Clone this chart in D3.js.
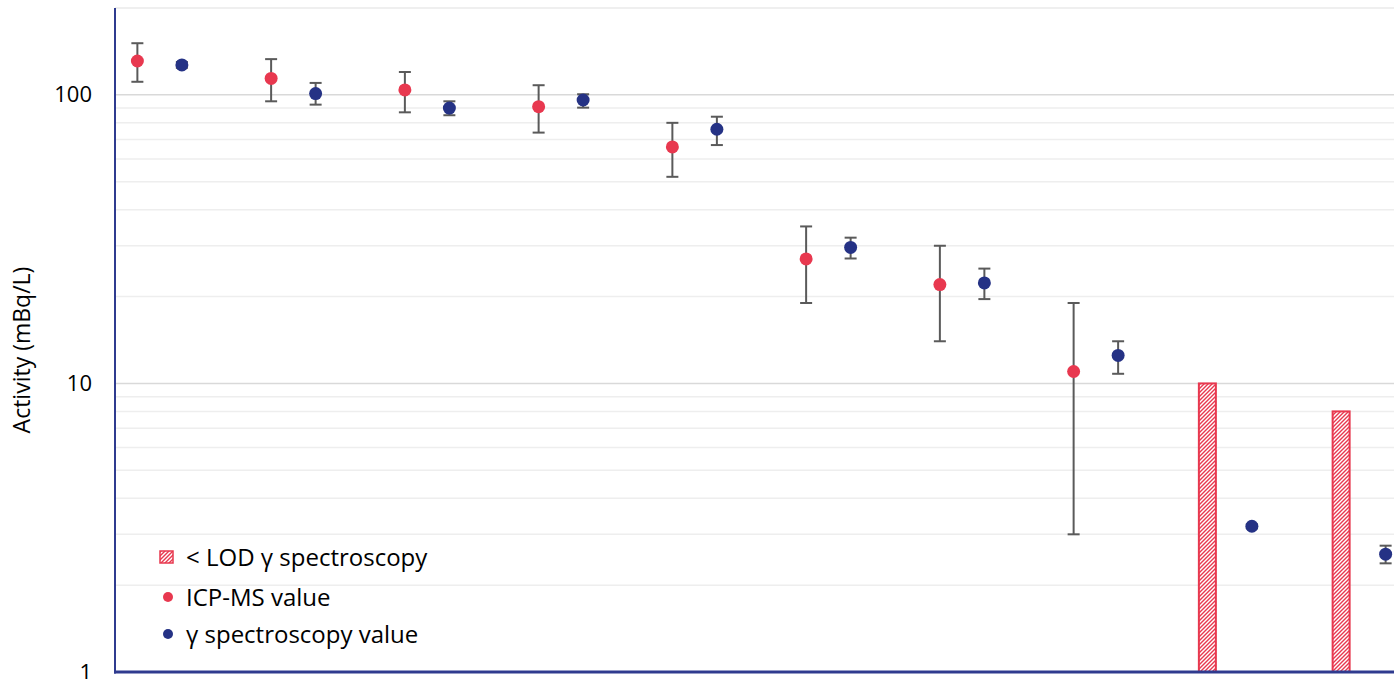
<!DOCTYPE html>
<html>
<head>
<meta charset="utf-8">
<script src="https://cdn.jsdelivr.net/npm/d3@7"></script>
<style>
html,body{margin:0;padding:0;background:#fff;overflow:hidden;}
text{font-family:"Open Sans", "Noto Sans", sans-serif;}
</style>
</head>
<body>
<svg id="chart" width="1394" height="679"></svg>
<script>
// ---- data ----
const categories = ["S1","S2","S3","S4","S5","S6","S7","S8","S9","S10"];
const icpValue   = [131, 114, 104, 91, 66, 27, 22, 11, null, null];
const icpLow     = [111, 95, 87, 74, 52, 19, 14, 3, null, null];
const icpHigh    = [151, 133, 120, 108, 80, 35, 30, 19, null, null];
const gammaValue = [127, 101, 90, 96, 76, 29.6, 22.3, 12.5, 3.2, 2.56];
const gammaLow   = [124, 92.5, 85, 90.3, 67, 27.1, 19.6, 10.8, 3.15, 2.38];
const gammaHigh  = [130, 110, 95, 100.5, 84, 32, 25, 14, 3.25, 2.74];
const lodGamma   = [null, null, null, null, null, null, null, null, 10, 8];
const yTicks = [1, 10, 100];
const legendLabels = ["< LOD γ spectroscopy", "ICP-MS value", "γ spectroscopy value"];

const RED = "#e8384f", BLUE = "#253285", AXIS = "#2f3b8f", ERR = "#5a5a5a";

const svg = d3.select("#chart");
const pLeft = 115, pTop = 8, pBottom = 672, catW = 133.75;

const x = d3.scaleBand().domain(categories).range([pLeft, pLeft + catW * categories.length]).padding(0);
const y = d3.scaleLog().domain([1, 200]).range([pBottom, pTop]);

const cx = c => x(c) + x.bandwidth() / 2;   // gamma position
const off = 44.5;                            // ICP / LOD offset to the left

// hatch pattern
const defs = svg.append("defs");
const pat = defs.append("pattern").attr("id", "hatch").attr("patternUnits", "userSpaceOnUse")
  .attr("width", 4).attr("height", 4);
pat.append("rect").attr("width", 4).attr("height", 4).attr("fill", "#fff");
pat.append("path").attr("d", "M-1,1 L1,-1 M0,4 L4,0 M3,5 L5,3").attr("stroke", RED).attr("stroke-width", 1.4);

// gridlines
const minor = [];
for (let d = 1; d <= 100; d *= 10) for (let k = 2; k <= 9; k++) if (d * k <= 200) minor.push(d * k);
minor.push(200);
svg.append("g").selectAll("line").data(minor).join("line")
  .attr("x1", pLeft).attr("x2", 1394).attr("y1", d => y(d)).attr("y2", d => y(d))
  .attr("stroke", "#eeeeee").attr("stroke-width", 1.5);
svg.append("g").selectAll("line").data([10, 100]).join("line")
  .attr("x1", pLeft).attr("x2", 1394).attr("y1", d => y(d)).attr("y2", d => y(d))
  .attr("stroke", "#d9d9d9").attr("stroke-width", 1.5);

// LOD bars
const lodData = categories.map((c, i) => ({c, v: lodGamma[i]})).filter(d => d.v != null);
svg.append("g").selectAll("rect").data(lodData).join("rect")
  .attr("x", d => cx(d.c) - off - 8.5).attr("width", 17)
  .attr("y", d => y(d.v)).attr("height", d => y(1) - y(d.v))
  .attr("fill", "url(#hatch)").attr("stroke", RED).attr("stroke-width", 2);

// error bars
function errBars(vals, lo, hi, dx) {
  const data = categories.map((c, i) => ({c, v: vals[i], lo: lo[i], hi: hi[i]})).filter(d => d.v != null);
  const g = svg.append("g").attr("stroke", ERR).attr("stroke-width", 2);
  g.selectAll(".v").data(data).join("line").attr("class", "v")
    .attr("x1", d => cx(d.c) + dx).attr("x2", d => cx(d.c) + dx)
    .attr("y1", d => y(d.lo)).attr("y2", d => y(d.hi));
  g.selectAll(".t").data(data).join("line").attr("class", "t")
    .attr("x1", d => cx(d.c) + dx - 6).attr("x2", d => cx(d.c) + dx + 6)
    .attr("y1", d => y(d.hi)).attr("y2", d => y(d.hi));
  g.selectAll(".b").data(data).join("line").attr("class", "b")
    .attr("x1", d => cx(d.c) + dx - 6).attr("x2", d => cx(d.c) + dx + 6)
    .attr("y1", d => y(d.lo)).attr("y2", d => y(d.lo));
  return data;
}
const icpData = errBars(icpValue, icpLow, icpHigh, -off);
const gamData = errBars(gammaValue, gammaLow, gammaHigh, 0);

svg.append("g").selectAll("circle").data(icpData).join("circle")
  .attr("cx", d => cx(d.c) - off).attr("cy", d => y(d.v)).attr("r", 6.5).attr("fill", RED);
svg.append("g").selectAll("circle").data(gamData).join("circle")
  .attr("cx", d => cx(d.c)).attr("cy", d => y(d.v)).attr("r", 6.5).attr("fill", BLUE);

// axes
const yAxis = d3.axisLeft(y).tickValues(yTicks).tickFormat(d3.format("d")).tickSize(0).tickPadding(23);
const ga = svg.append("g").attr("transform", `translate(${pLeft},0)`).call(yAxis);
ga.select(".domain").remove();
ga.selectAll("text").attr("font-size", 22).attr("fill", "#000").attr("font-family", "'Open Sans', sans-serif");

svg.append("line").attr("x1", pLeft).attr("x2", pLeft).attr("y1", pTop).attr("y2", pBottom + 1.5)
  .attr("stroke", AXIS).attr("stroke-width", 2);
svg.append("line").attr("x1", pLeft - 1).attr("x2", 1394).attr("y1", pBottom).attr("y2", pBottom)
  .attr("stroke", AXIS).attr("stroke-width", 3);

svg.append("text").attr("transform", `translate(30,350) rotate(-90)`)
  .attr("text-anchor", "middle").attr("font-size", 23).attr("fill", "#000").text("Activity (mBq/L)");

// legend
const lg = svg.append("g");
const ly = [557, 597, 634];
lg.append("rect").attr("x", 160).attr("y", ly[0] - 6).attr("width", 13).attr("height", 12)
  .attr("fill", "url(#hatch)").attr("stroke", RED).attr("stroke-width", 1.5);
lg.append("circle").attr("cx", 168).attr("cy", ly[1]).attr("r", 5).attr("fill", RED);
lg.append("circle").attr("cx", 168).attr("cy", ly[2]).attr("r", 5).attr("fill", BLUE);
lg.selectAll("text").data(legendLabels).join("text")
  .attr("x", 186).attr("y", (d, i) => ly[i] + 8.5).attr("font-size", 24).attr("fill", "#000").text(d => d);
</script>
</body>
</html>
